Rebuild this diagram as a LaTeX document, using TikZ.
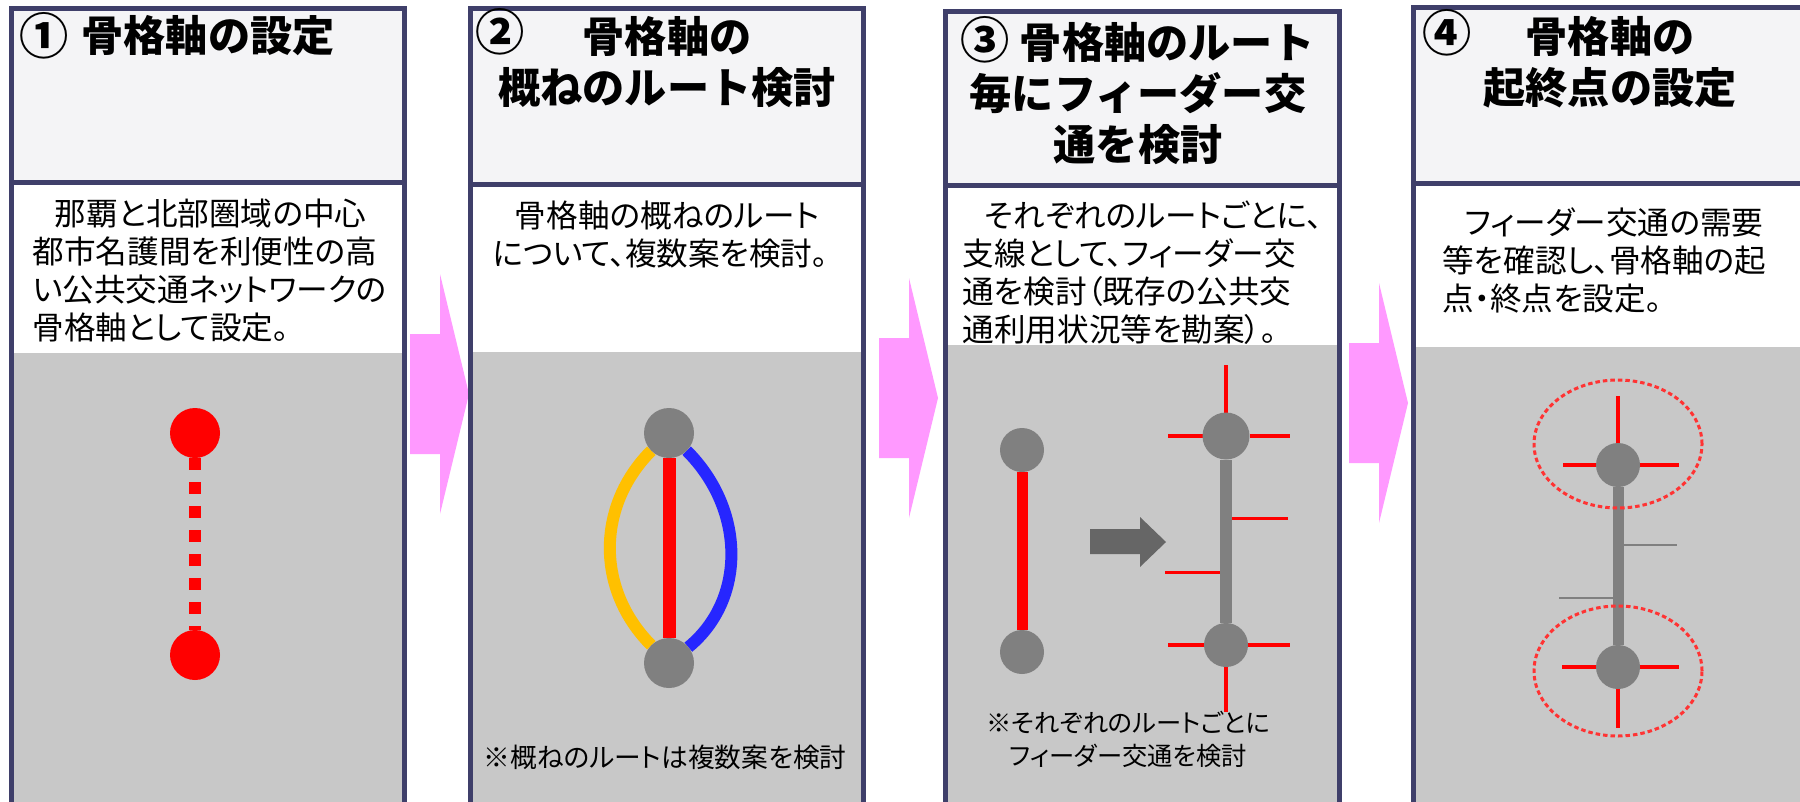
\documentclass[tikz,border=0pt]{standalone}
\usepackage{fontspec}
\setmainfont{Noto Sans CJK JP}
\newfontfamily\jpp[RawFeature=+palt]{Noto Sans CJK JP}
\definecolor{frameColor}{HTML}{3F3F6A}
\definecolor{headColor}{HTML}{F4F4F6}
\definecolor{paneColor}{HTML}{C8C8C8}
\definecolor{stepColor}{HTML}{FF99FF}
\definecolor{stopColor}{HTML}{808080}
\definecolor{altA}{HTML}{FFC000}
\definecolor{altB}{HTML}{2626FF}
\definecolor{shiftColor}{HTML}{666666}
\pgfdeclarelayer{bg}
\pgfdeclarelayer{wires}
\pgfsetlayers{bg,wires,main}
\tikzset{
	hd/.style={font=\fontsize{12}{14.5}\selectfont\bfseries, align=center, inner sep=0},
	num/.style={font=\fontsize{14}{14.5}\selectfont\bfseries, inner sep=0},
	txt/.style={font=\jpp\fontsize{9}{10.8}\selectfont, align=left, inner sep=0, anchor=north west},
	note/.style={font=\jpp\fontsize{7.6}{9.4}\selectfont, align=center, inner sep=0},
	stop/.style={circle, fill=stopColor, minimum size=#1, inner sep=0, outer sep=0},
	stop/.default=4.4mm,
	feeder/.style={red, line width=0.35mm},
	ring/.style={red!80, line width=0.3mm, dash pattern=on 0.45mm off 0.3mm}
}
\newcommand{\panel}[5]{% left, right, top, divider, gray start
	\fill[headColor] (#1,#3) rectangle (#2,#4);
	\fill[white] (#1,#4) rectangle (#2,#5);
	\fill[paneColor] (#1,#5) rectangle (#2,820);
	\draw[frameColor, line width=0.5mm] (#1,#3) rectangle (#2,#4) (#1,#4) rectangle (#2,820);
}
\newcommand{\steparrow}[2]{% left x, centre y
	\fill[stepColor] (#1,#2-60) -- ++(30,0) -- ++(0,-60) -- ++(29,120) -- ++(-29,120) -- ++(0,-60) -- ++(-30,0) -- cycle;
}

\begin{document}
\begin{tikzpicture}[x=0.1mm, y=-0.1mm]
	\useasboundingbox (0,0) rectangle (1800,802);
	\begin{pgfonlayer}{bg}
		\foreach \l/\c in {410/394, 879/398, 1349/403} {\steparrow{\l}{\c}}
		\panel{11.5}{404.5}{8.5}{183}{353}
		\panel{470}{863}{8.5}{184.5}{352}
		\panel{945.5}{1339}{11.5}{185.5}{345}
		\panel{1413.5}{1810}{8}{183.5}{347}
	\end{pgfonlayer}
	
	% step 1
	\node[num] (n1) at (44,36) {①};
	\node[hd] (h1) at (208,36) {骨格軸の設定};
	\node[txt] (t1) at (32,198) {\hspace*{6.3pt}那覇と北部圏域の中心\\都市名護間を利便性の高\\い公共交通ネットワークの\\骨格軸として設定。};
	\node[stop=5mm, fill=red] (a1) at (195,433) {};
	\node[stop=5mm, fill=red] (a2) at (195,655) {};
	
	% step 2
	\node[num] (n2) at (500,32) {②};
	\node[hd] (h2) at (667,62) {骨格軸の\\概ねのルート検討};
	\node[txt] (t2) at (492,200) {\hspace*{6.3pt}骨格軸の概ねのルート\\について、複数案を検討。};
	\node[stop=5mm] (b1) at (669,433) {};
	\node[stop=5mm] (b2) at (669,663) {};
	\node[note] (m2) at (665,757) {※概ねのルートは複数案を検討};
	
	% step 3
	\node[hd] (h3) at (1138,91) {{\fontsize{14}{14.5}\selectfont ③} 骨格軸のルート\\毎にフィーダー交\\通を検討};
	\node[txt] (t3) at (962,200) {\hspace*{6.3pt}それぞれのルートごとに、\\支線として、フィーダー交\\通を検討（既存の公共交\\通利用状況等を勘案）。};
	\node[stop] (c1) at (1022,450) {};
	\node[stop] (c2) at (1022,652) {};
	\node[stop=4.7mm] (c3) at (1226,436) {};
	\node[stop] (c4) at (1226,645) {};
	\fill[shiftColor] (1090,529) -- (1140,529) -- (1140,517) -- (1166,542) -- (1140,567) -- (1140,554) -- (1090,554) -- cycle;
	\node[note, font=\jpp\fontsize{7.2}{9.4}\selectfont] (m3) at (1128,739) {※それぞれのルートごとに\\フィーダー交通を検討};
	
	% step 4
	\node[num] (n4) at (1447,33) {④};
	\node[hd] (h4) at (1610,62) {骨格軸の\\起終点の設定};
	\node[txt] (t4) at (1442,207) {\hspace*{6.3pt}フィーダー交通の需要\\等を確認し、骨格軸の起\\点・終点を設定。};
	\node[stop] (d1) at (1618,465) {};
	\node[stop] (d2) at (1618,667) {};
	\draw[ring] (1618,444) ellipse [x radius=8.4mm, y radius=6.4mm];
	\draw[ring] (1618,671) ellipse [x radius=8.4mm, y radius=6.5mm];
	
	\begin{pgfonlayer}{wires}
		\draw[red, line width=1.25mm, dash pattern=on 1.2mm off 1.2mm] (a1) -- (a2);
		\draw[altA, line width=1.2mm] (b1) .. controls (596,506) and (596,590) .. (b2);
		\draw[altB, line width=1.2mm] (b1) .. controls (746,510) and (746,600) .. (b2);
		\draw[red, line width=1.3mm] (b1) -- (b2);
		\draw[red, line width=1.1mm] (c1) -- (c2);
		\path (c3) -- (c4) coordinate[pos=0.36] (c3a) coordinate[pos=0.69] (c3b);
		\draw[feeder] (c3a) -- ++(62,0) (c3b) -- ++(-61,0);
		\draw[feeder] (c3) -- ++(0,-71) (c3) -- ++(-58,0) (c3) -- ++(64,0);
		\draw[feeder] (c4) -- ++(0,67) (c4) -- ++(-58,0) (c4) -- ++(64,0);
		\draw[stopColor, line width=1.2mm] (c3) -- (c4);
		\path (d1) -- (d2) coordinate[pos=0.37] (d1a) coordinate[pos=0.70] (d1b);
		\draw[stopColor, line width=0.2mm] (d1a) -- ++(59,0) (d1b) -- ++(-59,0);
		\draw[feeder, line width=0.4mm] (d1) -- ++(0,-69) (d1) -- ++(-55,0) (d1) -- ++(61,0);
		\draw[feeder, line width=0.4mm] (d2) -- ++(0,61) (d2) -- ++(-56,0) (d2) -- ++(61,0);
		\draw[stopColor, line width=1.1mm] (d1) -- (d2);
	\end{pgfonlayer}
\end{tikzpicture}
\end{document}
